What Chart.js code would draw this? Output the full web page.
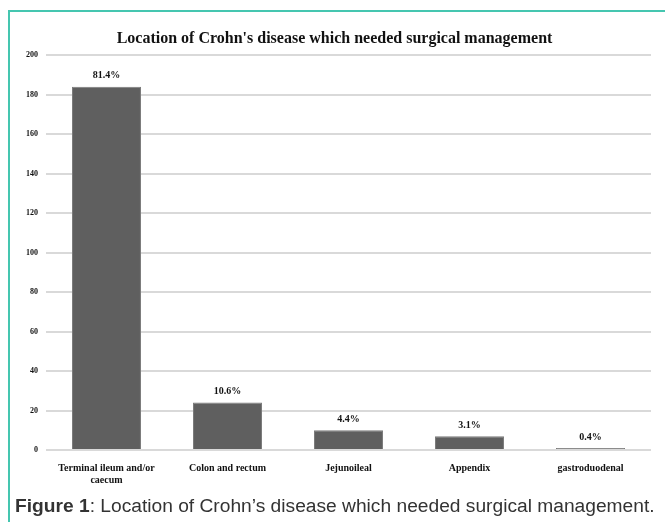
<!DOCTYPE html>
<html>
<head>
<meta charset="utf-8">
<script src="https://cdn.jsdelivr.net/npm/chart.js@4/dist/chart.umd.min.js"></script>
<style>
  body { margin: 0; background: #fff; }
  .frame {
    position: absolute; left: 8px; top: 10px; width: 657px; height: 512px;
    border-top: 2px solid #45c6b0; border-left: 2px solid #45c6b0;
  }
  .chart-box { position: absolute; left: 0; top: 12px; width: 665px; height: 486px; }
  .caption {
    position: absolute; left: 15px; top: 495px;
    font-family: "Liberation Sans", Arial, sans-serif; font-size: 19.2px; color: #333;
    white-space: nowrap;
  }
</style>
</head>
<body>
<div class="frame"></div>
<div class="chart-box"><canvas id="crohnChart"></canvas></div>
<div class="caption"><b>Figure 1</b>: Location of Crohn’s disease which needed surgical management.</div>
<script>
// Dữ liệu
const locations = [["Terminal ileum and/or", "caecum"], "Colon and rectum", "Jejunoileal", "Appendix", "gastroduodenal"];
const patientCounts = [184, 24, 10, 7, 1];
const percentLabels = ["81.4%", "10.6%", "4.4%", "3.1%", "0.4%"];
const yTicks = [0, 20, 40, 60, 80, 100, 120, 140, 160, 180, 200];

// plugin nhỏ vẽ nhãn phần trăm trên cột
const percentPlugin = {
  id: "percentLabels",
  afterDatasetsDraw(chart) {
    const ctx = chart.ctx;
    const meta = chart.getDatasetMeta(0);
    ctx.save();
    ctx.font = "bold 10px 'Liberation Serif', serif";
    ctx.fillStyle = "#111";
    ctx.textAlign = "center";
    ctx.textBaseline = "bottom";
    meta.data.forEach((bar, i) => {
      ctx.fillText(percentLabels[i], bar.x, bar.y - 6);
    });
    ctx.restore();
  },
};

new Chart(document.getElementById("crohnChart").getContext("2d"), {
  type: "bar",
  data: {
    labels: locations,
    datasets: [
      {
        data: patientCounts,
        backgroundColor: "#5f5f5f",
        borderColor: "#7a7a7a",
        borderWidth: 1,
        barPercentage: 0.57,
        categoryPercentage: 1,
      },
    ],
  },
  options: {
    responsive: true,
    maintainAspectRatio: false,
    animation: false,
    layout: { padding: { left: 18, right: 14, bottom: 8 } },
    plugins: {
      legend: { display: false },
      tooltip: { enabled: false },
      title: {
        display: true,
        text: "Location of Crohn's disease which needed surgical management",
        color: "#111",
        font: { family: "'Liberation Serif', serif", size: 16, weight: "bold" },
        padding: { top: 17, bottom: 7 },
      },
    },
    scales: {
      x: {
        grid: { display: false },
        border: { display: false },
        ticks: {
          color: "#111",
          font: { family: "'Liberation Serif', serif", size: 10, weight: "bold" },
          padding: 4,
          maxRotation: 0,
        },
      },
      y: {
        min: 0,
        max: 200,
        afterBuildTicks: (axis) => {
          axis.ticks = yTicks.map((v) => ({ value: v }));
        },
        grid: { color: "#d9d9d9", lineWidth: 2, drawTicks: false },
        border: { display: false },
        ticks: {
          color: "#111",
          font: { family: "'Liberation Serif', serif", size: 8, weight: "bold" },
          padding: 8,
        },
      },
    },
  },
  plugins: [percentPlugin],
});
</script>
</body>
</html>
